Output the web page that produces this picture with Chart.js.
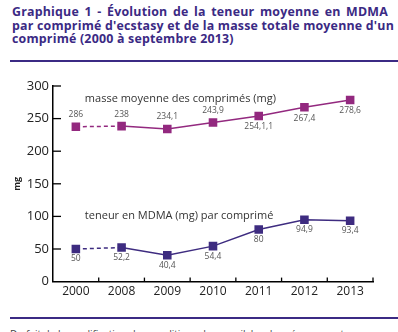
<!DOCTYPE html>
<html>
<head>
<meta charset="utf-8">
<script src="https://cdn.jsdelivr.net/npm/chart.js@4.4.1/dist/chart.umd.min.js"></script>
<style>
  html, body { margin: 0; padding: 0; width: 398px; height: 332px; overflow: hidden; background: #fff; }
  #title {
    position: absolute; left: 12px; top: 5px; width: 376px;
    font-family: "Open Sans", sans-serif; font-weight: bold; font-size: 12.4px;
    line-height: 13.6px; color: #3b2a84; letter-spacing: 0.2px;
  }
  #title .j { text-align: justify; text-align-last: justify; white-space: nowrap; }
  .rule { position: absolute; left: 10px; width: 388px; height: 1.5px; background: #3b2a84; }
  #wrap { position: absolute; left: 0; top: 62px; width: 398px; height: 252px; }
  #foot {
    position: absolute; left: 10px; top: 327px; white-space: nowrap;
    font-family: "Open Sans", sans-serif; font-size: 10px; color: #444;
  }
</style>
</head>
<body>
<div id="title">
  <div class="j">Graphique 1 - Évolution de la teneur moyenne en MDMA</div>
  <div class="j">par comprimé d'ecstasy et de la masse totale moyenne d'un</div>
  <div>comprimé (2000 à septembre 2013)</div>
</div>
<div class="rule" style="top:60px"></div>
<div id="wrap"><canvas id="myChart"></canvas></div>
<div class="rule" style="top:317px"></div>
<div id="foot">Du fait de la modification des conditions de recueil, les données ne sont pas comparables avec</div>
<script>
const years = ['2000', '2008', '2009', '2010', '2011', '2012', '2013'];
const masse = [237.5, 238.5, 234.1, 243.9, 254.1, 267.4, 278.6];
const masseLabels = ['286', '238', '234,1', '243,9', '254,1,1', '267,4', '278,6'];
const mdma = [50, 52.2, 40.4, 54.4, 80, 94.9, 93.4];
const mdmaLabels = ['50', '52,2', '40,4', '54,4', '80', '94,9', '93,4'];
const yTicks = [0, 50, 100, 150, 200, 250, 300];

const masseColor = '#93297f';
const mdmaColor = '#3e2c80';

// dashed line between 2000 and 2008
function dashFirst(ctx) {
  return ctx.p0DataIndex === 0 ? [4, 3] : undefined;
}

// inward ticks, value labels and series captions
const extras = {
  id: 'extras',
  afterDraw(chart) {
    const c = chart.ctx;
    const xs = chart.scales.x;
    const ys = chart.scales.y;
    const area = chart.chartArea;
    c.save();
    c.strokeStyle = '#000';
    c.lineWidth = 1.3;
    yTicks.forEach(v => {
      const py = ys.getPixelForValue(v);
      if (v === 0) return;
      c.beginPath();
      c.moveTo(area.left, py);
      c.lineTo(area.left + 8, py);
      c.stroke();
    });
    const half = (xs.getPixelForValue(1) - xs.getPixelForValue(0)) / 2;
    for (let i = 0; i < years.length; i++) {
      const px = xs.getPixelForValue(i) + half;
      c.beginPath();
      c.moveTo(px, area.bottom);
      c.lineTo(px, area.bottom - 4);
      c.stroke();
    }

    c.font = '8.5px "Open Sans"';
    c.fillStyle = '#555';
    c.textAlign = 'center';
    c.textBaseline = 'middle';
    const m0 = chart.getDatasetMeta(0).data;
    m0.forEach((p, i) => {
      const dy = i < 4 ? -12 : 11;
      c.fillText(masseLabels[i], p.x, p.y + dy);
    });
    const m1 = chart.getDatasetMeta(1).data;
    m1.forEach((p, i) => {
      c.fillText(mdmaLabels[i], p.x, p.y + 10);
    });

    c.font = '11px "Open Sans"';
    c.fillStyle = '#333';
    c.textAlign = 'left';
    c.fillText('masse moyenne des comprimés (mg)', xs.getPixelForValue(0) + 9, ys.getPixelForValue(281));
    c.fillText('teneur en MDMA (mg) par comprimé', xs.getPixelForValue(0) + 9, ys.getPixelForValue(101));
    c.restore();
  }
};

const ctx = document.getElementById('myChart');
const chart = new Chart(ctx, {
  type: 'line',
  data: {
    labels: years,
    datasets: [{
      label: 'masse moyenne des comprimés (mg)',
      data: masse,
      borderColor: masseColor,
      backgroundColor: masseColor,
      borderWidth: 1.5,
      pointStyle: 'rect',
      pointRadius: 5,
      segment: { borderDash: dashFirst }
    },
    {
      label: 'teneur en MDMA (mg) par comprimé',
      data: mdma,
      borderColor: mdmaColor,
      backgroundColor: mdmaColor,
      borderWidth: 1.5,
      pointStyle: 'rect',
      pointRadius: 5,
      segment: { borderDash: dashFirst }
    }]
  },
  options: {
    responsive: true,
    maintainAspectRatio: false,
    animation: false,
    layout: { padding: { left: 0, right: 25, top: 24, bottom: 12 } },
    plugins: { legend: { display: false }, tooltip: { enabled: false } },
    scales: {
      x: {
        offset: true,
        grid: { display: false, drawTicks: false },
        border: { display: true, color: '#000', width: 1.5 },
        ticks: { color: '#222', font: { family: 'Open Sans', size: 12 }, padding: 3 }
      },
      y: {
        min: 0,
        max: 300,
        afterFit(scale) { scale.width = 53; },
        grid: { display: false, drawTicks: false },
        border: { display: true, color: '#000', width: 1.5 },
        ticks: { stepSize: 50, color: '#222', font: { family: 'Open Sans', size: 13 }, padding: 4 },
        title: { display: true, text: 'mg', color: '#222', font: { family: 'Open Sans', size: 9, weight: 'bold' }, padding: 12 }
      }
    }
  },
  plugins: [extras]
});
</script>
</body>
</html>
